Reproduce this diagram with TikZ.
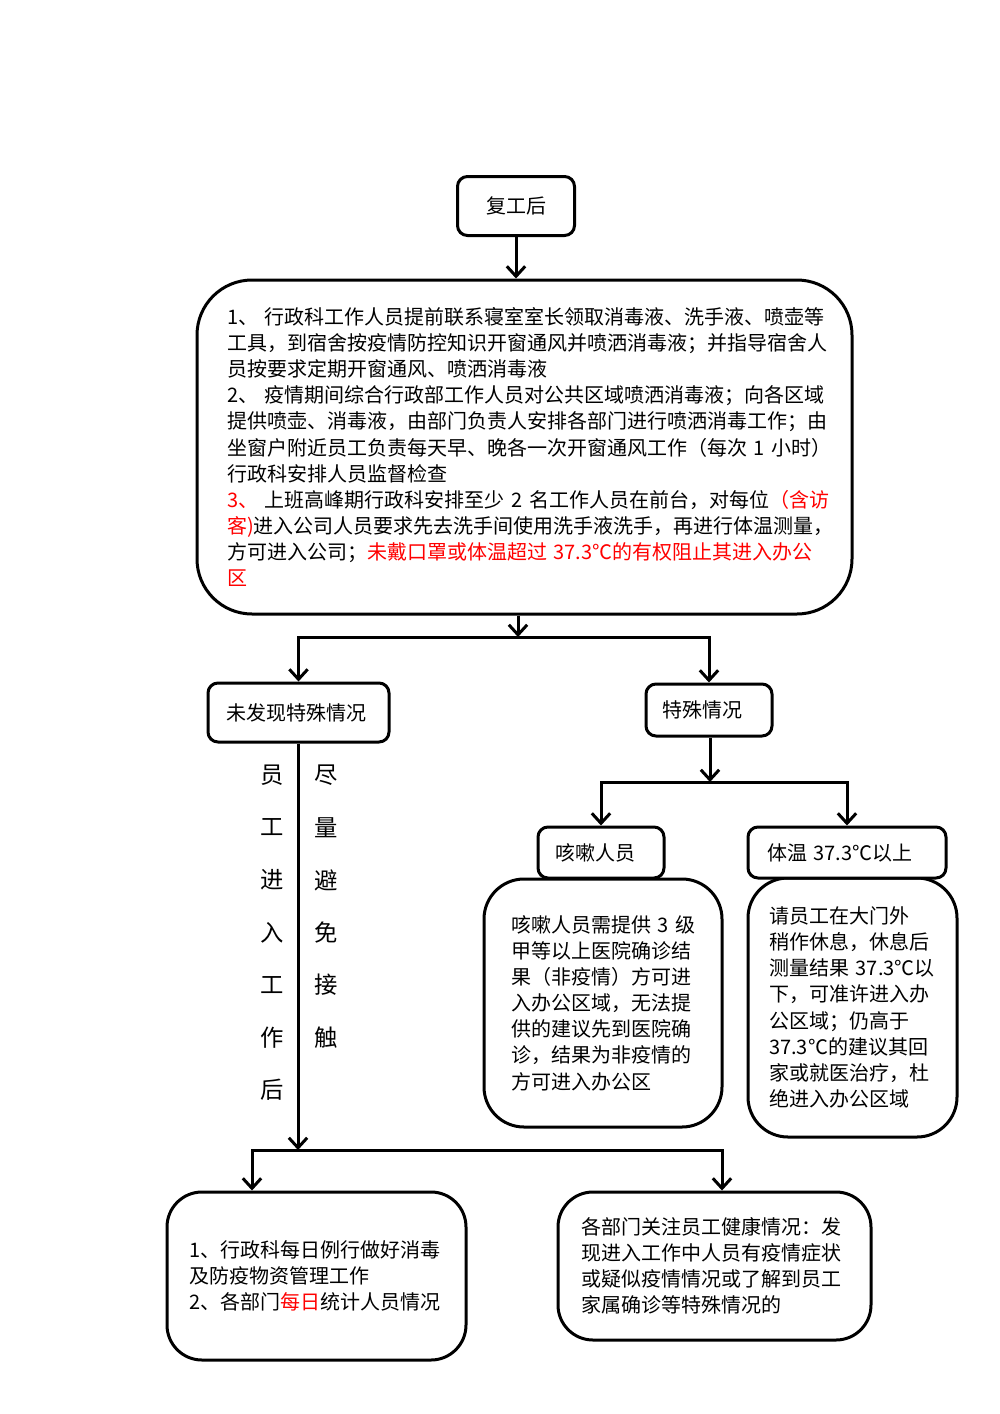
\documentclass[tikz,border=0pt]{standalone}
\usepackage{fontspec}
\setmainfont{Noto Sans CJK SC}
\usepackage{tikz}
\usetikzlibrary{arrows.meta,calc}
\definecolor{WarnRed}{RGB}{255,0,0}
\newcommand{\warn}[1]{\textcolor{WarnRed}{#1}}
\tikzset{
  box/.style={draw=black,line width=1.8pt,rounded corners=6pt,fill=white,
              inner sep=0pt,font={\fontsize{12}{15.7}\selectfont}},
  note/.style={box,align=left},
  flow/.style={line width=1.8pt},
  arr/.style={flow,-{Straight Barb[length=6pt,width=11pt]}},
  vchar/.style={inner sep=0pt,font={\fontsize{14}{14}\selectfont}},
}

\begin{document}
\begin{tikzpicture}[x=0.6pt,y=-0.6pt]
  \useasboundingbox (0,0) rectangle (1000,1414);
  % start and common rules
  \node[box,minimum width=70.2pt,minimum height=35.4pt] (start) at (516,206) {复工后};
  \node[note,rounded corners=33pt,minimum width=393pt,minimum height=200.4pt,
        text width=357pt] (rules) at (524.5,447) {%
    1、~行政科工作人员提前联系寝室室长领取消毒液、洗手液、喷壶等\\
    工具，到宿舍按疫情防控知识开窗通风并喷洒消毒液；并指导宿舍人\\
    员按要求定期开窗通风、喷洒消毒液\\
    2、~疫情期间综合行政部工作人员对公共区域喷洒消毒液；向各区域\\
    提供喷壶、消毒液，由部门负责人安排各部门进行喷洒消毒工作；由\\
    坐窗户附近员工负责每天早、晚各一次开窗通风工作（每次~1~小时）\\
    行政科安排人员监督检查\\
    \warn{3、}~上班高峰期行政科安排至少~2~名工作人员在前台，对每位\warn{（含访}\\
    \warn{客)}进入公司人员要求先去洗手间使用洗手液洗手，再进行体温测量，\\
    方可进入公司；\warn{未戴口罩或体温超过~37.3℃的有权阻止其进入办公}\\
    \warn{区}};
  \coordinate (split1) at (518,637);
  \draw[arr] (start.south) -- (start.south |- rules.north);
  \draw[arr] (split1 |- rules.south) -- (split1);
  % two branches
  \node[note,minimum width=108.6pt,minimum height=35.4pt,text width=87pt] (normal) at (298.5,712.5) {未发现特殊情况};
  \node[note,minimum width=75.6pt,minimum height=31.2pt,text width=56.4pt] (special) at (709,710) {特殊情况};
  \draw[arr] (split1) -| (normal);
  \draw[arr] (split1) -| (special);
  % special cases
  \coordinate (split2) at (710,782);
  \draw[arr] (split2 |- special.south) -- (split2);
  \node[note,rounded corners=24pt,minimum width=142.8pt,minimum height=148.8pt,
        text width=110.4pt] (coughinfo) at (603,1003) {%
    咳嗽人员需提供~3~级\\
    甲等以上医院确诊结\\
    果（非疫情）方可进\\
    入办公区域，无法提\\
    供的建议先到医院确\\
    诊，结果为非疫情的\\
    方可进入办公区};
  \node[note,rounded corners=24pt,minimum width=125.4pt,minimum height=155.4pt,
        text width=100pt] (feverinfo) at (852.5,1007.5) {%
    请员工在大门外\\
    稍作休息，休息后\\
    测量结果~37.3℃以\\
    下，可准许进入办\\
    公区域；仍高于\\
    37.3℃的建议其回\\
    家或就医治疗，杜\\
    绝进入办公区域};
  \node[note,minimum width=75.6pt,minimum height=30.6pt,text width=55.2pt] (cough) at (601,852.5) {咳嗽人员};
  \node[note,minimum width=118.8pt,minimum height=30.6pt,text width=96pt] (fever) at (847,852.5) {体温~37.3℃以上};
  \draw[arr] (split2) -| (cough);
  \draw[arr] (split2) -| (fever);
  % no special case
  \foreach \c [count=\i] in {员,工,进,入,工,作,后}
    \node[vchar] (lft\i) at (272,722.5+52.5*\i) {\c};
  \foreach \c [count=\i] in {尽,量,避,免,接,触}
    \node[vchar] (rgt\i) at (326,722.5+52.5*\i) {\c};
  \coordinate (split3) at (298,1150);
  \draw[arr] (split3 |- normal.south) -- (split3);
  % daily work
  \node[note,rounded corners=21pt,minimum width=179.4pt,minimum height=100.8pt,
        text width=152pt] (daily) at (316.5,1276) {%
    1、行政科每日例行做好消毒\\
    及防疫物资管理工作\\
    2、各部门\warn{每日}统计人员情况};
  \node[note,rounded corners=21pt,minimum width=187.8pt,minimum height=88.8pt,
        text width=160pt] (watch) at (714.5,1266) {%
    各部门关注员工健康情况：发\\
    现进入工作中人员有疫情症状\\
    或疑似疫情情况或了解到员工\\
    家属确诊等特殊情况的};
  \draw[arr] (split3) -| ([xshift=-38.7pt]daily.north);
  \draw[arr] (split3) -| ([xshift=4.5pt]watch.north);
\end{tikzpicture}
\end{document}
